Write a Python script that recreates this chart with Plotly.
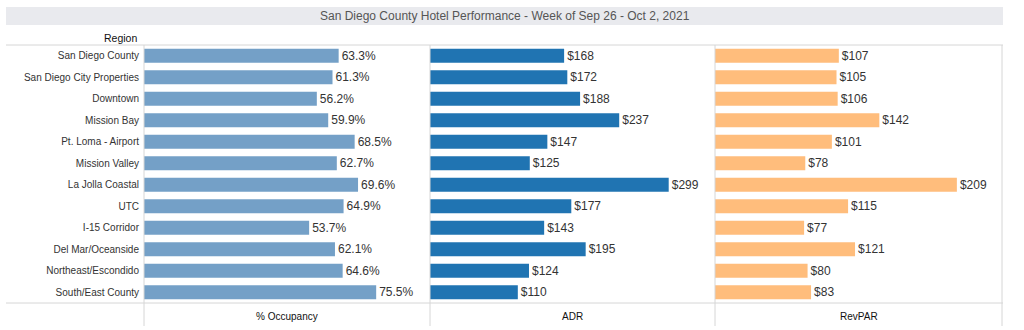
import plotly.graph_objects as go

regions = ["San Diego County", "San Diego City Properties", "Downtown", "Mission Bay",
           "Pt. Loma - Airport", "Mission Valley", "La Jolla Coastal", "UTC",
           "I-15 Corridor", "Del Mar/Oceanside", "Northeast/Escondido", "South/East County"]
occupancy = [63.3, 61.3, 56.2, 59.9, 68.5, 62.7, 69.6, 64.9, 53.7, 62.1, 64.6, 75.5]
adr = [168, 172, 188, 237, 147, 125, 299, 177, 143, 195, 124, 110]
revpar = [107, 105, 106, 142, 101, 78, 209, 115, 77, 121, 80, 83]
panel_titles = ["% Occupancy", "ADR", "RevPAR"]
title_text = "San Diego County Hotel Performance - Week of Sep 26 - Oct 2, 2021"

W, H = 1024, 330
FONT = "Liberation Sans, Arial, sans-serif"
GRID = "#d6d6d6"


def px(x):
    return x / W


def py(y):
    return 1 - y / H


panel_edges = [144, 430, 715, 1002]
top_y, bottom_y = 45, 303

series = [
    (occupancy, [f"{v:.1f}%" for v in occupancy], "#74a0c7", 93),
    (adr, [f"${v}" for v in adr], "#2074b2", 357),
    (revpar, [f"${v}" for v in revpar], "#ffbd7c", 248),
]

fig = go.Figure()
for i, (vals, labels, color, xmax) in enumerate(series):
    ax = "" if i == 0 else str(i + 1)
    fig.add_trace(go.Bar(
        x=vals, y=regions, orientation="h", xaxis="x" + ax, yaxis="y",
        marker=dict(color=color, line=dict(width=0)), width=0.66,
        text=labels, textposition="outside", cliponaxis=False, constraintext="none",
        textfont=dict(family=FONT, size=12, color="#333333"),
        hoverinfo="x+y", showlegend=False,
    ))
    fig.layout["xaxis" + ax] = dict(
        domain=[px(panel_edges[i]), px(panel_edges[i + 1])],
        range=[0, xmax], showgrid=False, zeroline=False, showticklabels=False,
        showline=False, anchor="y", fixedrange=True,
    )

fig.update_layout(
    width=W, height=H, margin=dict(l=0, r=0, t=0, b=0),
    paper_bgcolor="white", plot_bgcolor="white",
    bargap=0.34,
    yaxis=dict(
        domain=[py(bottom_y), py(top_y)], autorange="reversed",
        tickfont=dict(family=FONT, size=10, color="#333333"),
        showgrid=False, zeroline=False, showline=False, ticks="", ticklabelstandoff=4,
        fixedrange=True,
    ),
    font=dict(family=FONT),
)

shapes = []
# title band
shapes.append(dict(type="rect", xref="paper", yref="paper", x0=px(6), x1=px(1003),
                   y0=py(25), y1=py(7), fillcolor="#e9eaee", line=dict(width=0), layer="below"))
# horizontal rules
for y in (top_y, bottom_y):
    shapes.append(dict(type="line", xref="paper", yref="paper", x0=px(6), x1=px(1003),
                       y0=py(y), y1=py(y), line=dict(color=GRID, width=1)))
# vertical panel separators
for x in panel_edges:
    shapes.append(dict(type="line", xref="paper", yref="paper", x0=px(x), x1=px(x),
                       y0=py(326), y1=py(top_y), line=dict(color=GRID, width=1)))
fig.update_layout(shapes=shapes)

annotations = [
    dict(text=title_text, xref="paper", yref="paper", x=px(505), y=py(16),
         showarrow=False, xanchor="center", yanchor="middle",
         font=dict(family=FONT, size=12, color="#555555")),
    dict(text="Region", xref="paper", yref="paper", x=px(139), y=py(38),
         showarrow=False, xanchor="right", yanchor="middle",
         font=dict(family=FONT, size=10.5, color="#111111")),
]
for i, t in enumerate(panel_titles):
    cx = (panel_edges[i] + panel_edges[i + 1]) / 2
    annotations.append(dict(text=t, xref="paper", yref="paper", x=px(cx), y=py(316),
                            showarrow=False, xanchor="center", yanchor="middle",
                            font=dict(family=FONT, size=10, color="#111111")))
fig.update_layout(annotations=annotations)

fig.write_html("out.html")
